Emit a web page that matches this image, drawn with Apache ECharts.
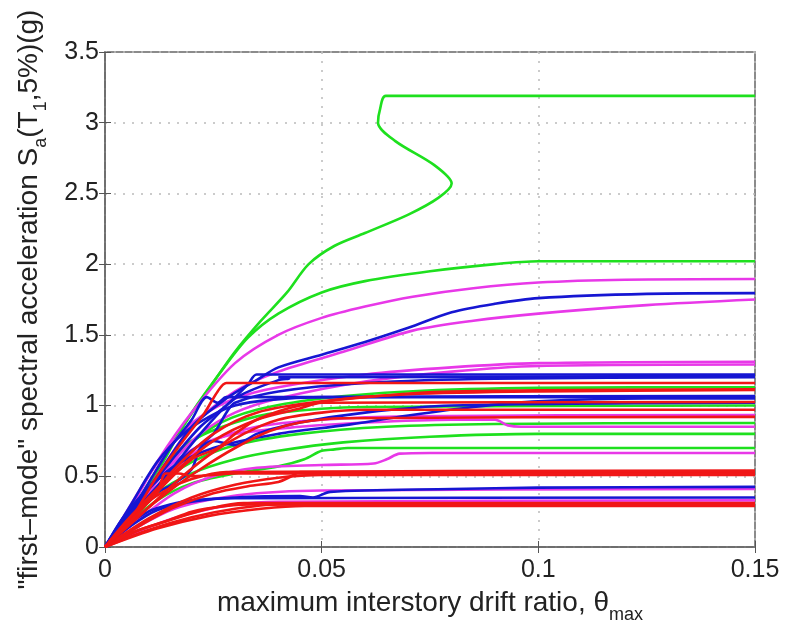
<!DOCTYPE html>
<html lang="en">
<head>
    <meta charset="UTF-8">
    <title>IDA curves</title>
    <script src="https://cdn.jsdelivr.net/npm/echarts@6/dist/echarts.min.js"></script>
</head>
<body style="margin:0;background:#fff">
<div id="main" style="width: 785px;height:636px;"></div>
<script>
    // IDA curves, [drift, Sa] points
    var greenCurves = [
        [[0,0],[0.005,0.2],[0.011,0.47],[0.018,0.85],[0.024,1.12],[0.03,1.38],[0.036,1.6],[0.042,1.8],[0.047,2.0],[0.053,2.13],[0.06,2.22],[0.07,2.35],[0.077,2.47],[0.080,2.57],[0.076,2.7],[0.067,2.87],[0.063,3.0],[0.0635,3.1],[0.0648,3.19],[0.15,3.19]],
        [[0,0],[0.006,0.25],[0.012,0.55],[0.02,0.95],[0.027,1.25],[0.033,1.48],[0.04,1.65],[0.05,1.8],[0.06,1.88],[0.075,1.95],[0.09,2.0],[0.1,2.02],[0.15,2.02]],
        [[0,0],[0.007,0.3],[0.015,0.6],[0.025,0.85],[0.035,0.97],[0.05,1.05],[0.07,1.1],[0.1,1.125],[0.15,1.13]],
        [[0,0],[0.006,0.25],[0.013,0.55],[0.02,0.75],[0.03,0.88],[0.04,0.95],[0.06,0.99],[0.15,1.0]],
        [[0,0],[0.006,0.22],[0.013,0.45],[0.02,0.6],[0.03,0.72],[0.045,0.8],[0.065,0.85],[0.09,0.87],[0.15,0.877]],
        [[0,0],[0.006,0.2],[0.012,0.38],[0.02,0.52],[0.03,0.62],[0.04,0.68],[0.055,0.74],[0.075,0.78],[0.1,0.8],[0.15,0.8]],
        [[0,0],[0.006,0.18],[0.012,0.33],[0.02,0.45],[0.03,0.52],[0.04,0.57],[0.046,0.62],[0.05,0.68],[0.053,0.69],[0.056,0.70],[0.15,0.70]]
    ];
    var magentaCurves = [
        [[0,0],[0.006,0.28],[0.012,0.6],[0.02,0.95],[0.03,1.3],[0.04,1.5],[0.05,1.62],[0.06,1.7],[0.071,1.77],[0.085,1.83],[0.1,1.87],[0.12,1.89],[0.15,1.895]],
        [[0,0],[0.006,0.22],[0.013,0.55],[0.02,0.85],[0.03,1.1],[0.04,1.24],[0.055,1.38],[0.071,1.53],[0.085,1.6],[0.1,1.65],[0.125,1.71],[0.15,1.75]],
        [[0,0],[0.005,0.25],[0.01,0.5],[0.016,0.75],[0.022,0.92],[0.03,1.05],[0.04,1.13],[0.06,1.22],[0.08,1.27],[0.1,1.3],[0.15,1.31]],
        [[0,0],[0.008,0.3],[0.015,0.58],[0.022,0.8],[0.03,0.95],[0.04,1.05],[0.06,1.17],[0.08,1.24],[0.1,1.28],[0.15,1.29]],
        [[0,0],[0.007,0.3],[0.014,0.55],[0.022,0.72],[0.03,0.8],[0.045,0.85],[0.06,0.88],[0.08,0.9],[0.09,0.9],[0.093,0.86],[0.096,0.85],[0.15,0.85]],
        [[0,0],[0.008,0.28],[0.016,0.55],[0.025,0.75],[0.035,0.85],[0.05,0.9],[0.07,0.925],[0.15,0.933]],
        [[0,0],[0.008,0.2],[0.016,0.38],[0.025,0.5],[0.035,0.56],[0.05,0.58],[0.062,0.59],[0.065,0.62],[0.068,0.66],[0.075,0.665],[0.15,0.665]],
        [[0,0],[0.008,0.15],[0.016,0.27],[0.025,0.34],[0.035,0.38],[0.05,0.4],[0.15,0.41]],
        [[0,0],[0.01,0.14],[0.02,0.24],[0.03,0.3],[0.04,0.32],[0.15,0.33]]
    ];
    var blueCurves = [
        [[0,0],[0.005,0.2],[0.012,0.5],[0.02,0.85],[0.028,1.05],[0.035,1.18],[0.04,1.27],[0.05,1.36],[0.06,1.45],[0.07,1.55],[0.08,1.66],[0.09,1.72],[0.1,1.76],[0.125,1.79],[0.15,1.795]],
        [[0,0],[0.006,0.25],[0.015,0.6],[0.022,0.85],[0.028,1.0],[0.033,1.15],[0.035,1.22],[0.15,1.22]],
        [[0,0],[0.006,0.22],[0.014,0.5],[0.022,0.8],[0.03,1.05],[0.04,1.18],[0.0425,1.19],[0.04,1.2],[0.045,1.2],[0.15,1.21]],
        [[0,0],[0.005,0.2],[0.01,0.45],[0.015,0.7],[0.02,0.9],[0.0235,1.06],[0.026,1.02],[0.028,1.06],[0.15,1.06]],
        [[0,0],[0.007,0.3],[0.015,0.55],[0.025,0.7],[0.04,0.8],[0.055,0.86],[0.07,0.93],[0.085,0.99],[0.1,1.03],[0.125,1.05],[0.15,1.05]],
        [[0,0],[0.006,0.3],[0.012,0.6],[0.018,0.8],[0.024,0.92],[0.03,1.0],[0.038,1.04],[0.05,1.06],[0.15,1.068]],
        [[0,0],[0.006,0.15],[0.012,0.26],[0.02,0.32],[0.03,0.35],[0.045,0.36],[0.048,0.35],[0.052,0.39],[0.08,0.41],[0.1,0.42],[0.15,0.425]],
        [[0,0],[0.005,0.15],[0.01,0.25],[0.015,0.3],[0.02,0.33],[0.03,0.345],[0.15,0.35]],
        [[0,0],[0.004,0.2],[0.01,0.42],[0.015,0.55],[0.02,0.68],[0.025,0.8],[0.028,0.95],[0.03,1.02],[0.04,1.1],[0.06,1.16],[0.09,1.19],[0.15,1.2]],
        [[0,0],[0.004,0.18],[0.01,0.35],[0.016,0.45],[0.02,0.55],[0.022,0.7],[0.025,0.75],[0.03,0.72],[0.035,0.8],[0.045,0.88],[0.06,0.95],[0.08,1.0],[0.15,1.02]]
    ];
    var redCurves = [
        [[0,0],[0.006,0.2],[0.012,0.5],[0.018,0.75],[0.023,0.95],[0.026,1.1],[0.028,1.16],[0.15,1.16]],
        [[0,0],[0.008,0.25],[0.016,0.55],[0.025,0.8],[0.035,0.95],[0.05,1.03],[0.07,1.08],[0.1,1.1],[0.15,1.11]],
        [[0,0],[0.007,0.25],[0.015,0.5],[0.025,0.75],[0.035,0.9],[0.045,0.98],[0.05,1.02],[0.15,1.025]],
        [[0,0],[0.008,0.22],[0.016,0.45],[0.024,0.65],[0.032,0.8],[0.04,0.9],[0.05,0.95],[0.06,0.97],[0.15,0.97]],
        [[0,0],[0.007,0.2],[0.015,0.4],[0.022,0.55],[0.03,0.7],[0.038,0.82],[0.045,0.88],[0.055,0.91],[0.15,0.92]],
        [[0,0],[0.008,0.15],[0.016,0.28],[0.025,0.38],[0.033,0.43],[0.04,0.46],[0.043,0.5],[0.045,0.53],[0.15,0.53]],
        [[0,0],[0.006,0.2],[0.012,0.38],[0.014,0.52],[0.017,0.52],[0.02,0.5],[0.025,0.51],[0.03,0.52],[0.15,0.52]],
        [[0,0],[0.01,0.2],[0.02,0.35],[0.03,0.44],[0.04,0.49],[0.05,0.51],[0.15,0.51]],
        [[0,0],[0.007,0.25],[0.014,0.4],[0.02,0.48],[0.028,0.53],[0.15,0.54]],
        [[0,0],[0.01,0.12],[0.02,0.21],[0.03,0.27],[0.04,0.3],[0.15,0.3]],
        [[0,0],[0.008,0.12],[0.016,0.2],[0.024,0.27],[0.032,0.31],[0.15,0.31]],
        [[0,0],[0.012,0.13],[0.024,0.22],[0.036,0.27],[0.046,0.29],[0.15,0.29]],
        [[0,0],[0.006,0.1],[0.014,0.18],[0.02,0.25],[0.028,0.29],[0.035,0.3],[0.15,0.30]],
        [[0,0],[0.007,0.22],[0.014,0.45],[0.02,0.62],[0.026,0.7],[0.03,0.8],[0.035,0.9],[0.045,1.0],[0.06,1.06],[0.08,1.1],[0.15,1.115]]
    ];
    var groups = [
        {curves: greenCurves, color: '#1ee01e'},
        {curves: magentaCurves, color: '#e838e8'},
        {curves: blueCurves, color: '#1616d2'},
        {curves: redCurves, color: '#f01616'}
    ];

    var series = [];
    groups.forEach(function (g) {
        g.curves.forEach(function (c) {
            series.push({
                type: 'line',
                data: c,
                smooth: 0.3,
                showSymbol: false,
                silent: true,
                lineStyle: {color: g.color, width: 2.6},
                animation: false
            });
        });
    });

    var fontFam = '"Liberation Sans", Arial, sans-serif';
    var gridLine = {show: true, lineStyle: {color: '#bbb', type: [2, 7], width: 1.5}};
    var nameRich = {
        t: {fontSize: 28, color: '#222', lineHeight: 42, verticalAlign: 'middle'},
        s: {fontSize: 18, color: '#222', lineHeight: 18, verticalAlign: 'bottom'}
    };

    var myChart = echarts.init(document.getElementById('main'));
    var option = {
        backgroundColor: '#fff',
        textStyle: {fontFamily: fontFam},
        grid: {left: 105, right: 30, top: 52, bottom: 89, show: true, borderColor: '#666', borderWidth: 1.5},
        xAxis: [{
            type: 'value', min: 0, max: 0.15, interval: 0.05,
            axisLine: {show: true, lineStyle: {color: '#666', width: 1.5}},
            axisTick: {inside: true, length: 6, lineStyle: {color: '#555'}},
            axisLabel: {color: '#222', fontSize: 25, margin: 11, formatter: function (v) { return v === 0 ? '0' : String(+v.toFixed(2)); }},
            splitLine: gridLine,
            name: '{t|maximum interstory drift ratio, \u03b8}{s|max}',
            nameLocation: 'middle', nameGap: 35,
            nameTextStyle: {rich: nameRich}
        }, {
            type: 'value', min: 0, max: 0.15, interval: 0.05, position: 'top',
            axisLine: {show: false}, axisLabel: {show: false}, splitLine: {show: false},
            axisTick: {inside: true, length: 6, lineStyle: {color: '#555'}}
        }],
        yAxis: [{
            type: 'value', min: 0, max: 3.5, interval: 0.5,
            axisLine: {show: true, lineStyle: {color: '#666', width: 1.5}},
            axisTick: {show: true, inside: true, length: 6, lineStyle: {color: '#555'}},
            axisLabel: {color: '#222', fontSize: 25, margin: 6},
            splitLine: gridLine,
            name: '{t|"first\u2013mode" spectral acceleration S}{s|a}{t|(T}{s|1}{t|,5%)(g)}',
            nameLocation: 'middle', nameGap: 55,
            nameTextStyle: {rich: nameRich}
        }, {
            type: 'value', min: 0, max: 3.5, interval: 0.5, position: 'right',
            axisLine: {show: false}, axisLabel: {show: false}, splitLine: {show: false},
            axisTick: {show: true, inside: true, length: 6, lineStyle: {color: '#555'}}
        }],
        series: series
    };
    myChart.setOption(option);
</script>
</body>
</html>
